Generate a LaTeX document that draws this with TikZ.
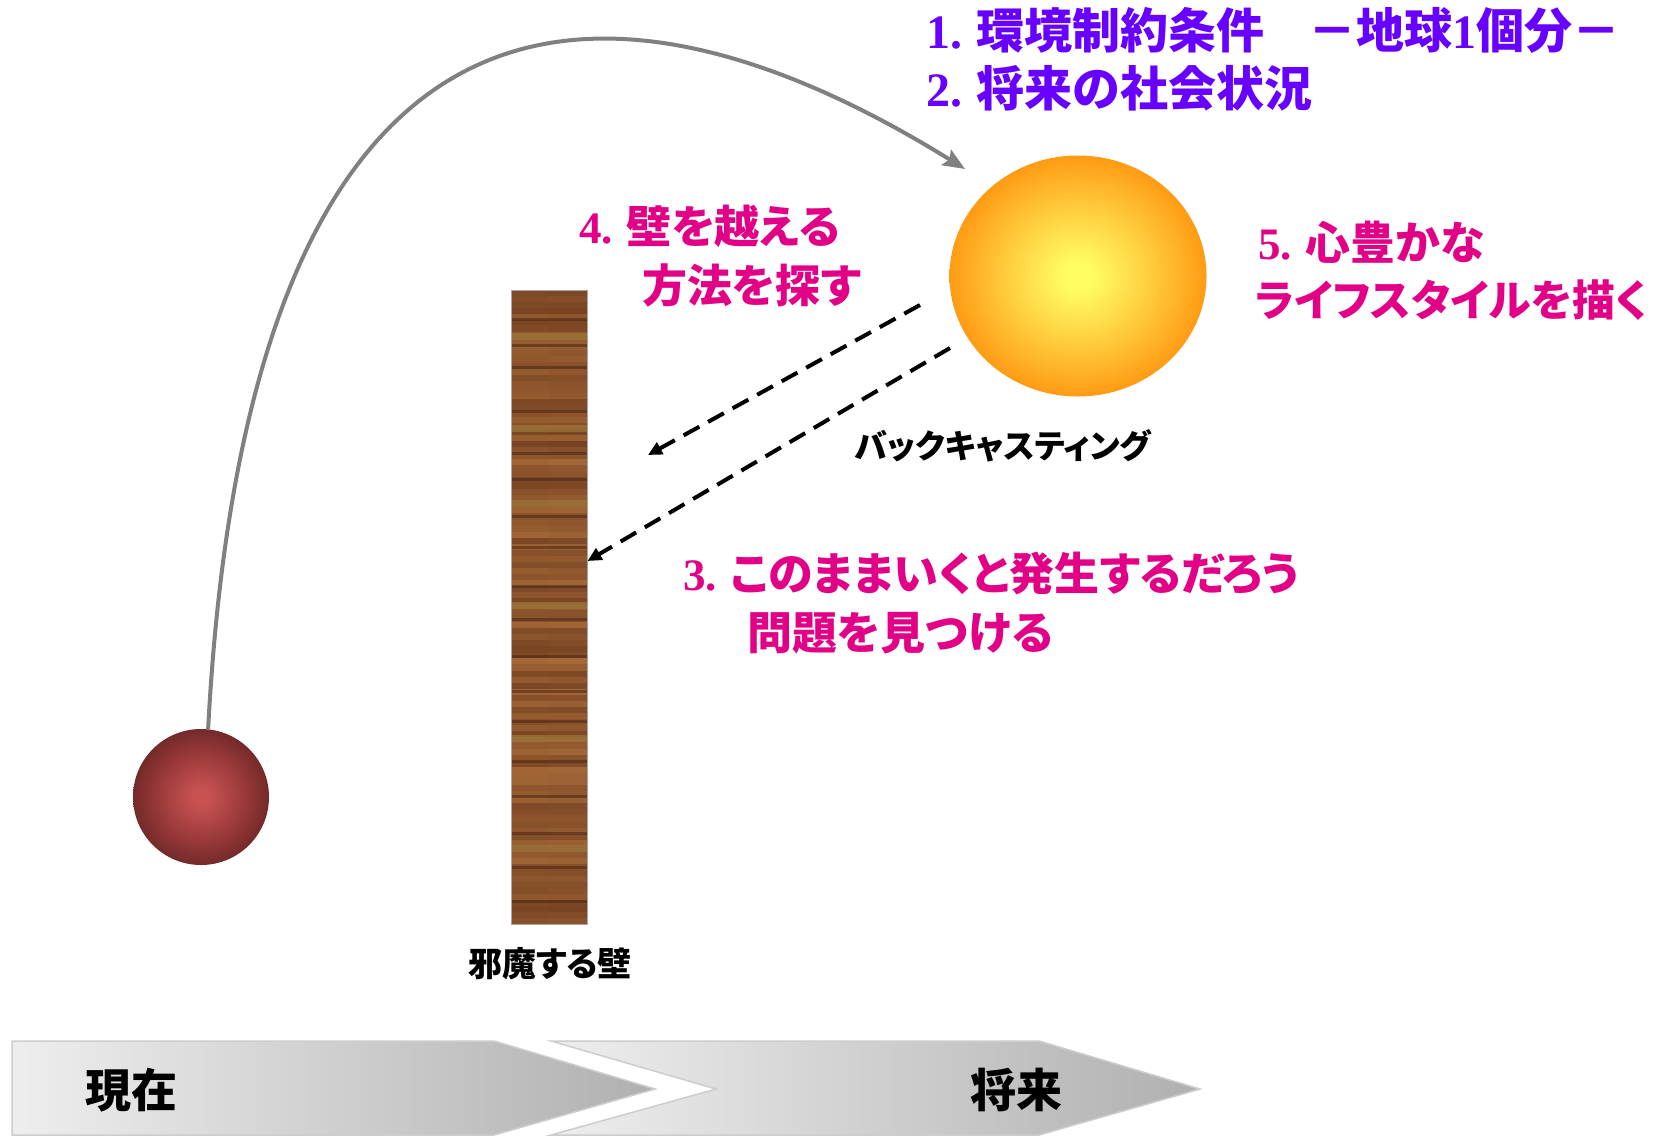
\documentclass[tikz,border=0pt]{standalone}
\usepackage{fontspec}
\newfontfamily\jp{Noto Sans CJK JP}[RawFeature={+palt}]
\newfontfamily\lat{Liberation Serif}
\usetikzlibrary{arrows.meta,shapes.geometric,calc}
\definecolor{ttpurple}{RGB}{104,0,255}
\definecolor{ttmagenta}{RGB}{226,0,135}
\definecolor{curvegray}{RGB}{128,128,128}
\definecolor{sunA}{RGB}{255,252,98}
\definecolor{sunB}{RGB}{255,205,62}
\definecolor{sunC}{RGB}{255,155,20}
\definecolor{redA}{RGB}{200,82,82}
\definecolor{redB}{RGB}{150,55,55}
\definecolor{redC}{RGB}{90,32,32}
\definecolor{woodA}{RGB}{105,55,28}
\definecolor{woodB}{RGB}{165,105,55}
\definecolor{woodC}{RGB}{155,120,58}
\definecolor{chevL}{RGB}{238,238,238}
\definecolor{chevR}{RGB}{176,176,176}
\definecolor{chevBorder}{RGB}{205,205,205}
\pgfdeclareradialshading{sunshade}{\pgfpoint{0bp}{0bp}}{color(0bp)=(sunA); color(3bp)=(sunA); color(14bp)=(sunB); color(25bp)=(sunC); color(50bp)=(sunC)}
\pgfdeclareradialshading{redshade}{\pgfpoint{0bp}{0bp}}{color(0bp)=(redA); color(3bp)=(redA); color(17bp)=(redB); color(31bp)=(redC); color(50bp)=(redC)}
\newcommand{\nm}[1]{{\lat\bfseries #1}}
\begin{document}
\begin{tikzpicture}[x=1pt,y=-1pt,
  purpletxt/.style={anchor=west,inner sep=0pt,text=ttpurple,font=\jp\bfseries\fontsize{48}{56}\selectfont},
  magtxt/.style={anchor=west,inner sep=0pt,text=ttmagenta,font=\jp\bfseries\fontsize{45}{52}\selectfont},
  blacktxt/.style={inner sep=0pt,text=black,font=\jp\bfseries\fontsize{33}{40}\selectfont},
  timetxt/.style={inner sep=0pt,text=black,font=\jp\bfseries\fontsize{46}{52}\selectfont},
  pathcurve/.style={draw=curvegray,line width=4pt,-{Stealth[length=22pt,width=18pt,inset=4pt]}},
  backarrow/.style={draw=black,line width=4pt,dash pattern=on 18pt off 10pt,-{Triangle[length=14pt,width=13pt]}},
  chevron/.style={draw=chevBorder,line width=1.5pt,left color=chevL,right color=chevR}
]
\useasboundingbox (0,0) rectangle (1665,1136);
\fill[white] (0,0) rectangle (1665,1136);

% wall texture
\fill[woodB] (511,290) rectangle (587,924);
\pgfmathsetseed{17}
\foreach \i in {0,...,104}{
  \pgfmathtruncatemacro{\p}{random(5,75)}
  \pgfmathtruncatemacro{\q}{\p+random(0,12)-6}
  \fill[woodA!\p!woodB] (511,{290+\i*6.04}) rectangle (549,{290+\i*6.04+6.2});
  \fill[woodA!\q!woodB] (549,{290+\i*6.04}) rectangle (587,{290+\i*6.04+6.2});
}
\foreach \yy in {318,344,366,410,452,478,515,546,585,618,655,690,720,760,795,832,866,900}{
  \fill[woodA!75!black,opacity=0.6] (511,\yy) rectangle (587,\yy+3);
}
\foreach \yy in {333,425,500,602,735,845}{
  \fill[woodC,opacity=0.7] (511,\yy) rectangle (587,\yy+7);
}
\node[rectangle,minimum width=76,minimum height=634,inner sep=0pt,draw=gray!70,line width=1pt] (wall) at (549,607) {};

% spheres
\node[circle,minimum size=136,inner sep=0pt,shade,shading=redshade] (now) at (201,797) {};
\node[ellipse,minimum width=257,minimum height=241,inner sep=0pt,shade,shading=sunshade] (sun) at (1078,276) {};

% connectors
\coordinate (ctip) at (965,169);
\draw[pathcurve] (now.84) .. controls (250,-70) and (620,-45) .. (ctip);
\coordinate (d1s) at (920,305);
\coordinate (d1e) at (648,455);
\coordinate (d2s) at (950,348);
\coordinate (d2e) at (wall.east |- 0,561);
\draw[backarrow] (d1s) -- (d1e);
\draw[backarrow] (d2s) -- (d2e);

% texts
\node[purpletxt] (t1) at (926,30) {\nm{1.} 環境制約条件\hspace{44pt}－地球\nm{1}個分－};
\node[purpletxt] (t2) at (926,88) {\nm{2.} 将来の社会状況};
\node[magtxt] (t4a) at (579,226) {\nm{4.} 壁を越える};
\node[magtxt] (t4b) at (642,285) {方法を探す};
\node[magtxt] (t5a) at (1258,242) {\nm{5.} 心豊かな};
\node[magtxt,font=\jp\bfseries\fontsize{43}{50}\selectfont] (t5b) at (1255,300) {ライフスタイルを描く};
\node[magtxt] (t3a) at (683,573) {\nm{3.} このままいくと発生するだろう};
\node[magtxt] (t3b) at (747,633) {問題を見つける};
\node[blacktxt] (bc) at (1003,446) {バックキャスティング};
\node[blacktxt,font=\jp\bfseries\fontsize{34}{40}\selectfont] (wl) at (550,964) {邪魔する壁};

% timeline
\path[chevron] (12,1041) -- (494,1041) -- (655,1089) -- (494,1135) -- (12,1135) -- cycle;
\path[chevron] (551,1041) -- (1039,1041) -- (1200,1089) -- (1039,1135) -- (551,1135) -- (716,1089) -- cycle;
\node[timetxt] (present) at (131,1090) {現在};
\node[timetxt] (future) at (1016,1090) {将来};
\end{tikzpicture}
\end{document}
